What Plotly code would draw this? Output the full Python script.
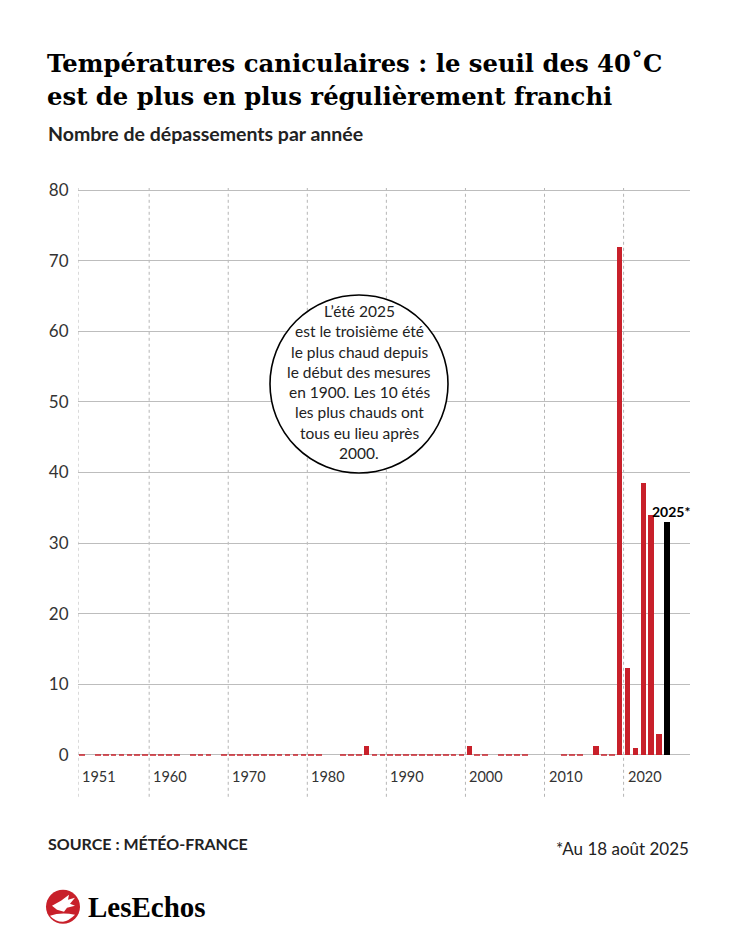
import plotly.graph_objects as go

# =========================================================
# DATA  (None = année absente, 0 = aucun dépassement)
# =========================================================
years = list(range(1951, 2026))
counts = [
    0, None, 0, 0, 0, 0, 0, 0, 0, 0,            # 1951-1960
    0, 0, 0, None, 0, 0, 0, None, 0, 0,         # 1961-1970
    0, 0, 0, 0, 0, 0, 0, 0, 0, 0,               # 1971-1980
    0, None, None, 0, 0, 0, 1.2, 0, 0, 0,       # 1981-1990
    0, 0, 0, 0, 0, 0, 0, 0, 0, 1.2,             # 1991-2000
    0, 0, None, 0, 0, 0, 0, None, None, None,   # 2001-2010
    None, 0, 0, 0, None, 1.2, 0, 0, 72, 12.3,   # 2011-2020
    1, 38.5, 34, 3, 33,                          # 2021-2025
]
tick_years = [1951, 1960, 1970, 1980, 1990, 2000, 2010, 2020]
y_ticks = [0, 10, 20, 30, 40, 50, 60, 70, 80]
note_lines = [
    "L’été 2025",
    "est le troisième été",
    "le plus chaud depuis",
    "le début des mesures",
    "en 1900. Les 10 étés",
    "les plus chauds ont",
    "tous eu lieu après",
    "2000.",
]

# =========================================================
# STYLE
# =========================================================
W, H = 750, 938
PL, PR = 78, 690          # plot area, pixels
PT, PB = 188, 759.2
RED = "#c8202a"
BLACK = "#000000"
GRID = "#bdbdbd"
TXT = "#222222"
SANS = "Lato"
SERIF = "DejaVu Serif"
CIRCLE_X, CIRCLE_Y, CIRCLE_R = 359, 384, 89


def px_x(x):
    return (x - PL) / (PR - PL)


def px_y(y):
    return (PB - y) / (PB - PT)


last_year = years[-1]
bar_x = [y for y, c in zip(years, counts) if c is not None and c > 0 and y != last_year]
bar_y = [c for y, c in zip(years, counts) if c is not None and c > 0 and y != last_year]
zero_x = [y for y, c in zip(years, counts) if c == 0]

fig = go.Figure()

# petits tirets pour les années sans dépassement
fig.add_trace(go.Bar(
    x=zero_x, y=[0.26] * len(zero_x), base=-0.13,
    width=0.72, offset=0.14, marker=dict(color=RED, line_width=0),
    opacity=0.75, hoverinfo="skip",
))
fig.add_trace(go.Bar(
    x=bar_x, y=bar_y, width=0.72, offset=0.14,
    marker=dict(color=RED, line_width=0),
))
fig.add_trace(go.Bar(
    x=[last_year], y=[counts[-1]], width=0.72, offset=0.14,
    marker=dict(color=BLACK, line_width=0),
))

# lignes verticales pointillées + années
for ty in tick_years:
    fig.add_shape(
        type="line", xref="x", yref="paper", x0=ty, x1=ty,
        y0=px_y(797), y1=px_y(PT), layer="below",
        line=dict(color="#b5b5b5", width=1, dash="dot"),
    )
    fig.add_annotation(
        x=ty, y=px_y(777), xref="x", yref="paper", text=str(ty),
        showarrow=False, xanchor="left", yanchor="middle", xshift=2,
        font=dict(family=SANS, size=14.5, color="#333333"),
    )

# bulle
fig.add_shape(
    type="circle", xref="paper", yref="paper",
    xsizemode="pixel", ysizemode="pixel",
    xanchor=px_x(CIRCLE_X), yanchor=px_y(CIRCLE_Y),
    x0=-CIRCLE_R, x1=CIRCLE_R, y0=-CIRCLE_R, y1=CIRCLE_R,
    line=dict(color=BLACK, width=1.6), fillcolor="white", layer="above",
)
for i, line in enumerate(note_lines):
    fig.add_annotation(
        x=px_x(CIRCLE_X), y=px_y(311 + i * 20.3), xref="paper", yref="paper",
        text=line, showarrow=False, xanchor="center", yanchor="middle",
        font=dict(family=SANS, size=15.5, color=TXT),
    )

fig.add_annotation(
    x=last_year + 0.5, y=counts[-1], xref="x", yref="y", text="<b>2025*</b>",
    showarrow=False, xanchor="center", yanchor="bottom", yshift=0, xshift=4,
    font=dict(family=SANS, size=14, color=BLACK),
)

# titres
fig.add_annotation(
    x=px_x(45), y=px_y(63), xref="paper", yref="paper",
    text="<b>Températures caniculaires : le seuil des 40˚C</b>",
    showarrow=False, xanchor="left", yanchor="middle",
    font=dict(family=SERIF, size=24.3, color=BLACK),
)
fig.add_annotation(
    x=px_x(45), y=px_y(96), xref="paper", yref="paper",
    text="<b>est de plus en plus régulièrement franchi</b>",
    showarrow=False, xanchor="left", yanchor="middle",
    font=dict(family=SERIF, size=24.3, color=BLACK),
)
fig.add_annotation(
    x=px_x(46), y=px_y(133), xref="paper", yref="paper",
    text="<b>Nombre de dépassements par année</b>",
    showarrow=False, xanchor="left", yanchor="middle",
    font=dict(family=SANS, size=19.5, color=TXT),
)

# pied
fig.add_annotation(
    x=px_x(46), y=px_y(844), xref="paper", yref="paper",
    text="<b>SOURCE : MÉTÉO-FRANCE</b>",
    showarrow=False, xanchor="left", yanchor="middle",
    font=dict(family=SANS, size=16, color=TXT),
)
fig.add_annotation(
    x=px_x(691), y=px_y(849), xref="paper", yref="paper",
    text="*Au 18 août 2025",
    showarrow=False, xanchor="right", yanchor="middle",
    font=dict(family=SANS, size=17, color=TXT),
)

# logo : disque rouge + silhouette blanche
fig.add_shape(
    type="circle", xref="paper", yref="paper",
    xsizemode="pixel", ysizemode="pixel",
    xanchor=px_x(63), yanchor=px_y(907),
    x0=-17, x1=17, y0=-17, y1=17,
    line=dict(color=RED, width=0), fillcolor=RED,
)
fig.add_shape(
    type="path", xref="paper", yref="paper",
    xsizemode="pixel", ysizemode="pixel",
    xanchor=px_x(63), yanchor=px_y(907),
    path="M -11,1 L -2,6 L 6,12 L 5,7 L 12,9 L 7,3 L 12,1 L 4,-1 L 1,-5 L -6,-3 Z",
    line=dict(color="white", width=0), fillcolor="white",
)
fig.add_shape(
    type="path", xref="paper", yref="paper",
    xsizemode="pixel", ysizemode="pixel",
    xanchor=px_x(63), yanchor=px_y(907),
    path="M -13,-9 Q -2,-5 12,-8 Q 6,-14 0,-15 Q -8,-15 -13,-9 Z",
    line=dict(color="white", width=0), fillcolor="white",
)
fig.add_annotation(
    x=px_x(86), y=px_y(907), xref="paper", yref="paper",
    text="<b>LesEchos</b>",
    showarrow=False, xanchor="left", yanchor="middle",
    font=dict(family="Liberation Serif", size=29, color=BLACK),
)

fig.update_layout(
    width=W, height=H,
    paper_bgcolor="white", plot_bgcolor="white",
    margin=dict(l=PL, r=W - PR, t=PT, b=H - PB, autoexpand=False),
    showlegend=False, barmode="overlay", bargap=0,
    font=dict(family=SANS, color=TXT),
)
fig.update_xaxes(
    range=[1951, 2028.4], showgrid=False, zeroline=False,
    showticklabels=False, ticks="",
)
fig.update_yaxes(
    range=[-0.6, 80.3], tickvals=y_ticks, showgrid=True,
    gridcolor=GRID, gridwidth=1, zeroline=False,
    ticks="outside", ticklen=5, tickcolor="white",
    tickfont=dict(family=SANS, size=17, color="#333333"),
)

# la page html a une marge de 8px par défaut
fig.write_html(
    "out.html",
    config={"displayModeBar": False},
    post_script="document.body.style.margin='0';",
)
